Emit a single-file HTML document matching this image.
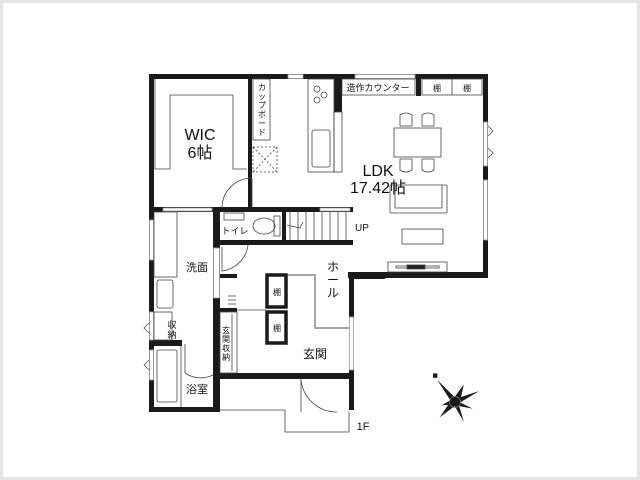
<!DOCTYPE html>
<html><head><meta charset="utf-8"><style>
html,body{margin:0;padding:0;background:#e6e6e6;}
.f{position:absolute;left:3px;top:3px;width:634px;height:474px;background:#fff;}
svg{position:absolute;left:0;top:0}
text{font-family:"Liberation Sans","Noto Sans CJK JP",sans-serif;fill:#111}
</style></head><body>
<div class="f"></div>
<svg width="640" height="480" viewBox="0 0 640 480">
<g fill="#1a1a1a">
<rect x="149" y="74" width="339" height="5"/>
<rect x="149" y="74" width="5" height="338"/>
<rect x="483" y="74" width="5" height="204"/>
<rect x="348" y="272" width="140" height="6"/>
<rect x="248" y="74" width="4" height="138"/>
<rect x="149" y="207" width="104" height="5"/>
<rect x="334" y="79" width="8" height="33"/>
<rect x="416" y="74" width="5" height="22"/>
<rect x="213" y="207" width="140" height="5"/>
<rect x="213" y="240" width="140" height="5"/>
<rect x="282" y="207" width="4" height="38"/>
<rect x="213" y="207" width="7" height="205"/>
<rect x="149" y="407" width="71" height="5"/>
<rect x="149" y="340" width="33" height="6"/>
<rect x="218" y="373" width="131" height="6"/>
<rect x="349" y="273" width="5" height="44"/>
<rect x="349" y="370" width="5" height="40"/>
<rect x="349" y="273" width="36" height="6"/>
<rect x="220" y="274" width="17" height="4"/>
<rect x="220" y="308" width="17" height="4"/>
</g>
<g fill="#fff" stroke="#999" stroke-width="0.8">
<rect x="288" y="74.5" width="15" height="4"/>
<rect x="355" y="74.5" width="60" height="4"/>
<rect x="163" y="208" width="49" height="3"/>
<rect x="483.5" y="180" width="4" height="60"/>
<rect x="483.5" y="122" width="4" height="44"/>
<rect x="149.5" y="220" width="4" height="40"/>
<rect x="149.5" y="312" width="4" height="28"/>
<rect x="149.5" y="350" width="4" height="30"/>
<rect x="213.5" y="248" width="6" height="50"/>
<rect x="349.5" y="317" width="4" height="53"/>
<rect x="320" y="208" width="30" height="3"/>
</g>
<g fill="none" stroke="#444" stroke-width="0.8">
<path d="M155 79V169H170V95H233V169H247"/>
<rect x="253" y="79" width="17" height="61"/>
<rect x="253" y="147" width="24" height="25" stroke-dasharray="2,2"/>
<path d="M253 147L277 172M277 147L253 172" stroke-dasharray="2,2"/>
<rect x="308" y="79" width="26" height="93"/>
<rect x="334" y="112" width="8" height="60"/>
<circle cx="317" cy="89" r="3"/><circle cx="324" cy="95" r="3"/><circle cx="317" cy="100" r="3"/>
<rect x="312" y="130" width="18" height="37" rx="2"/>
<rect x="342" y="79" width="73" height="16"/>
<rect x="422" y="79" width="60" height="16"/>
<line x1="452" y1="79" x2="452" y2="95"/>
<rect x="394" y="128" width="47" height="29"/>
<path d="M400 126V115q6-4 12 0V126z M422 126V115q6-4 12 0V126z M400 159V170q6 4 12 0V159z M422 159V170q6 4 12 0V159z"/>
<rect x="390" y="185" width="57" height="28" rx="1"/>
<path d="M395 185V208H442V185"/>
<rect x="402" y="229" width="41" height="15"/>
<rect x="388" y="262" width="59" height="10"/>
<rect x="396" y="266" width="43" height="2"/>
<rect x="407" y="265" width="18" height="4" fill="#222"/>
<path d="M290 212V240M298 212V240M306 212V240M314 212V240M322 212V240M330 212V240M338 212V240M346 212V240"/>
<path d="M287 225L300 228L303 222"/>
<rect x="224" y="213" width="20" height="7"/>
<ellipse cx="264" cy="226" rx="11" ry="8"/>
<rect x="274" y="216" width="6" height="20"/>
<path d="M252 178A30 30 0 0 0 222 207V207" /><line x1="252" y1="178" x2="252" y2="207"/>
<path d="M222 247V271A30 30 0 0 0 248 245"/>
<path d="M185 344V373A28 28 0 0 0 213 375"/>
<path d="M301 378V380A36 36 0 0 0 337 412" /><line x1="301" y1="379" x2="301" y2="412"/>
<rect x="154" y="212" width="23" height="65"/>
<rect x="157" y="280" width="16" height="28" rx="2"/>
<rect x="154" y="312" width="18" height="28"/>
<rect x="157" y="350" width="20" height="52" rx="2"/>
<line x1="181" y1="346" x2="181" y2="407"/>
<rect x="220" y="312" width="17" height="61"/>
<line x1="232" y1="314" x2="232" y2="371"/>
<path d="M228 296H236M228 300H236M228 304H236"/>
<path d="M220 410H285V432H349V412"/>
<path d="M288 275H315V328H349" stroke="#888" stroke-width="1.5"/>
<line x1="236" y1="310" x2="266" y2="310"/>
</g>
<rect x="267" y="275" width="19" height="32" fill="#fff" stroke="#1a1a1a" stroke-width="3.5"/>
<rect x="267" y="312" width="19" height="31" fill="#fff" stroke="#1a1a1a" stroke-width="3.5"/>
<g fill="none" stroke="#555" stroke-width="0.8">
<path d="M488 126L493 131L488 136M488 148L493 153L488 158"/>
<path d="M149 323L144 328L149 333M149 360L144 365L149 370"/>
</g>
<text x="200" y="140" font-size="16" text-anchor="middle">WIC</text>
<text x="200" y="158" font-size="16" text-anchor="middle">6帖</text>
<text x="378" y="176" font-size="16" text-anchor="middle">LDK</text>
<text x="378" y="193" font-size="16" text-anchor="middle">17.42帖</text>
<text x="378" y="91" font-size="9" text-anchor="middle">造作カウンター</text>
<text x="437" y="91" font-size="8" text-anchor="middle">棚</text>
<text x="467" y="91" font-size="8" text-anchor="middle">棚</text>
<text font-size="8" text-anchor="middle"><tspan x="262" y="90">カ</tspan><tspan x="262" y="99">ッ</tspan><tspan x="262" y="108">プ</tspan><tspan x="262" y="117">ボ</tspan><tspan x="262" y="126">ー</tspan><tspan x="262" y="135">ド</tspan></text>
<text x="235" y="234" font-size="9" text-anchor="middle">トイレ</text>
<text x="362" y="231" font-size="10" text-anchor="middle">UP</text>
<text x="197" y="271" font-size="11" text-anchor="middle">洗面</text>
<text x="197" y="393" font-size="11" text-anchor="middle">浴室</text>
<text x="315" y="358" font-size="12" text-anchor="middle">玄関</text>
<text font-size="12" text-anchor="middle"><tspan x="333" y="271">ホ</tspan><tspan x="333" y="284">ー</tspan><tspan x="333" y="297">ル</tspan></text>
<text font-size="9" text-anchor="middle"><tspan x="172" y="328">収</tspan><tspan x="172" y="338">納</tspan></text>
<text font-size="8" text-anchor="middle"><tspan x="226" y="333">玄</tspan><tspan x="226" y="342">関</tspan><tspan x="226" y="351">収</tspan><tspan x="226" y="360">納</tspan></text>
<text x="277" y="295" font-size="8" text-anchor="middle">棚</text>
<text x="277" y="331" font-size="8" text-anchor="middle">棚</text>
<text x="363" y="430" font-size="11" text-anchor="middle">1F</text>
<g transform="translate(455,402) scale(1.1)" fill="#1a1a1a">
<polygon points="-16,-20 2,-2 -2,2"/>
<polygon points="0,-5 8,-16 4,2 -2,2"/>
<polygon points="-2,-2 22,-10 2,2"/>
<polygon points="-2,-3 16,6 0,3"/>
<polygon points="-3,-1 3,1 8,18"/>
<polygon points="-3,-2 2,2 -14,14"/>
<polygon points="-2,-3 3,2 -12,3"/>
<circle cx="0" cy="0" r="5" fill="none" stroke="#777" stroke-width="0.7"/>
<rect x="-20" y="-26" width="4" height="4"/>
</g>
</svg>
</body></html>
